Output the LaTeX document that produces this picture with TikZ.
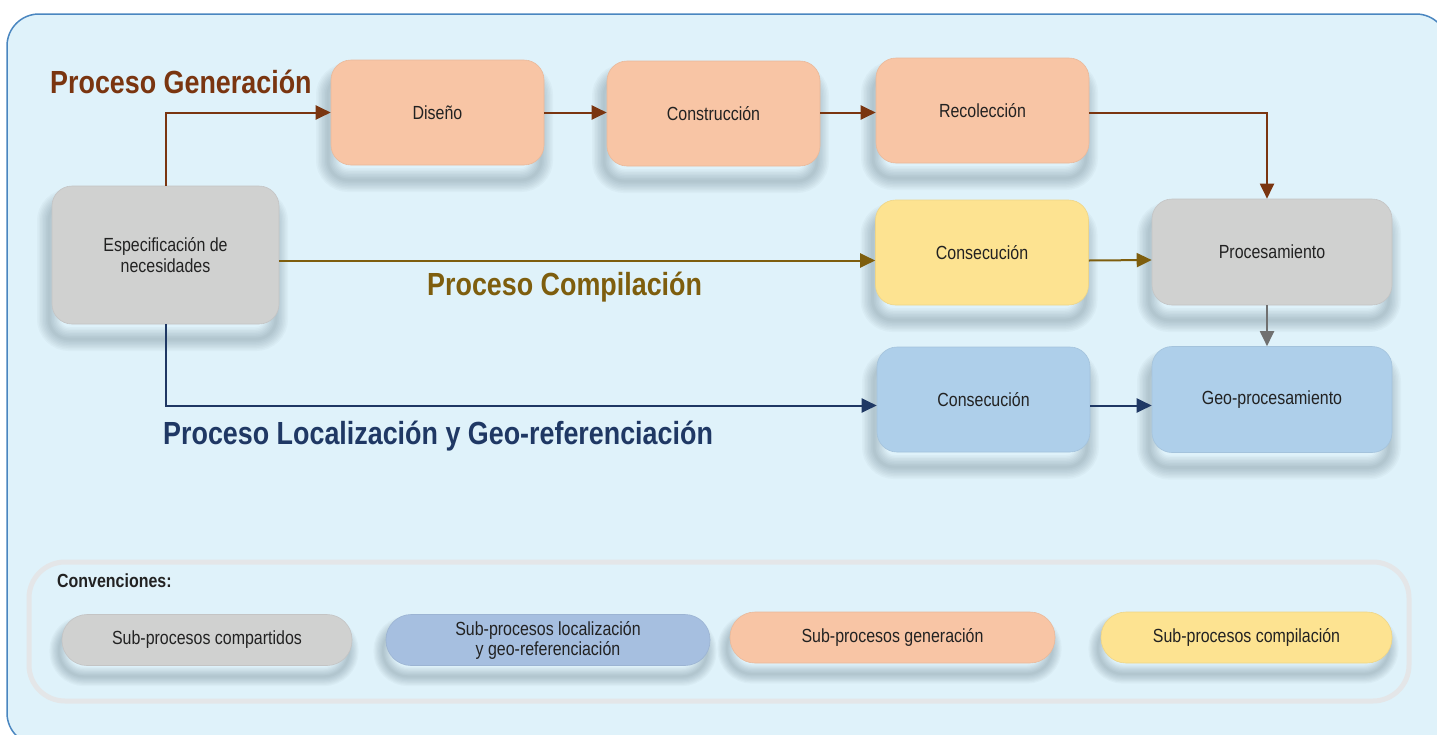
\documentclass[tikz,border=0pt]{standalone}
\usepackage{fontspec}
\setmainfont{Liberation Sans}[FakeStretch=0.84]
\usetikzlibrary{arrows.meta}
\definecolor{bgc}{HTML}{DFF2FA}
\definecolor{bordc}{HTML}{4A86C0}
\definecolor{orangec}{HTML}{F8C5A5}
\definecolor{yellowc}{HTML}{FDE391}
\definecolor{grayc}{HTML}{D0D1D0}
\definecolor{bluec}{HTML}{AECFEA}
\definecolor{lbluec}{HTML}{A6BFE0}
\definecolor{genc}{HTML}{7A3510}
\definecolor{compc}{HTML}{7E5E0E}
\definecolor{locc}{HTML}{1F3864}
\definecolor{arrgray}{HTML}{707070}
\definecolor{txtc}{HTML}{222222}
\definecolor{legbord}{HTML}{E4E6E8}
\definecolor{shadc}{HTML}{38505F}
\tikzset{
  sl/.style n args={3}{preaction={draw=shadc, draw opacity=0.035, line width=#1, transform canvas={xshift=-3pt,yshift=-#2}}},
  softshadow/.style 2 args={
    sl={#1*2.4}{#2}{}, sl={#1*2.1}{#2}{}, sl={#1*1.8}{#2}{}, sl={#1*1.5}{#2}{},
    sl={#1*1.2}{#2}{}, sl={#1*0.9}{#2}{}, sl={#1*0.6}{#2}{}, sl={#1*0.3}{#2}{}},
  box/.style={rounded corners=20pt, inner sep=0pt, text=txtc, align=center,
    font=\fontsize{19}{21}\selectfont, softshadow={10pt}{15pt}, line width=0.6pt},
  stdbox/.style={box, minimum width=213pt, minimum height=105pt},
  widebox/.style={box, minimum width=240pt, minimum height=106pt},
  pill/.style={rounded corners=25pt, inner sep=0pt, text=txtc, align=center, line width=0.6pt,
    minimum height=51pt, font=\fontsize{19}{20}\selectfont, softshadow={8pt}{11pt}},
  conn/.style={line width=2pt, -{Triangle[length=15pt,width=14pt]}},
  title/.style={font=\bfseries\fontsize{32}{35}\selectfont, anchor=west, inner sep=0pt}
}
\begin{document}
\begin{tikzpicture}[x=1pt,y=1pt]
\useasboundingbox (0,0) rectangle (1437,-734);
\clip (0,0) rectangle (1437,-734);
\fill[white] (0,0) rectangle (1437,-734);
\draw[bordc, line width=1.5pt, fill=bgc, rounded corners=32pt] (7,-14) rectangle (1448,-745);

% main nodes
\node[box, fill=grayc, draw=grayc!94!black, minimum width=227pt, minimum height=138pt] (esp) at (165.5,-255) {Especificación de\\necesidades};
\node[stdbox, fill=orangec, draw=orangec!94!black] (dis) at (437.5,-112.5) {Diseño};
\node[stdbox, fill=orangec, draw=orangec!94!black] (con) at (713.5,-113.5) {Construcción};
\node[stdbox, fill=orangec, draw=orangec!94!black] (rec) at (982.5,-110.5) {Recolección};
\node[stdbox, fill=yellowc, draw=yellowc!94!black] (ycons) at (982,-252.5) {Consecución};
\node[widebox, fill=grayc, draw=grayc!94!black] (proc) at (1272,-252) {Procesamiento};
\node[stdbox, fill=bluec, draw=bluec!94!black] (bcons) at (983.5,-399.5) {Consecución};
\node[widebox, fill=bluec, draw=bluec!94!black] (geo) at (1272,-399.5) {Geo-procesamiento};

% titles
\node[title, text=genc] (tgen) at (50,-82) {Proceso Generación};
\node[title, text=compc] (tcomp) at (427,-287) {Proceso Compilación};
\node[title, text=locc] (tloc) at (163,-436) {Proceso Localización y Geo-referenciación};

% connectors
\draw[conn, genc] (esp.north) |- (dis.west);
\draw[conn, genc] (dis.east) -- (con.west |- dis.east);
\draw[conn, genc] (con.east |- dis.east) -- (rec.west |- dis.east);
\draw[conn, genc] (rec.east |- dis.east) -| ([xshift=-5pt]proc.north);
\draw[conn, compc] ([yshift=-8pt]esp.east |- ycons.west) -- ([yshift=-8pt]ycons.west);
\draw[conn, compc] ([yshift=-8pt]ycons.east) -- ([yshift=-8pt]proc.west);
\draw[conn, arrgray] ([xshift=-5pt]proc.south) -- ([xshift=-5pt]geo.north);
\draw[conn, locc] (esp.south) |- ([yshift=-6pt]bcons.west);
\draw[conn, locc] ([yshift=-6pt]bcons.east) -- ([yshift=-6pt]geo.west);

% legend
\draw[legbord, line width=5pt, rounded corners=36pt] (29,-562) rectangle (1409,-701);
\node[anchor=west, inner sep=0pt, text=txtc, font=\bfseries\fontsize{19}{21}\selectfont] (conv) at (57,-581) {Convenciones:};
\node[pill, fill=grayc, draw=grayc!94!black, minimum width=290pt] (l1) at (207,-640) {Sub-procesos compartidos};
\node[pill, fill=lbluec, draw=lbluec!94!black, minimum width=324pt] (l2) at (548,-640) {Sub-procesos localización\\y geo-referenciación};
\node[pill, fill=orangec, draw=orangec!94!black, minimum width=325pt] (l3) at (892.5,-637.5) {Sub-procesos generación};
\node[pill, fill=yellowc, draw=yellowc!94!black, minimum width=291pt] (l4) at (1246.5,-637.5) {Sub-procesos compilación};
\end{tikzpicture}
\end{document}
